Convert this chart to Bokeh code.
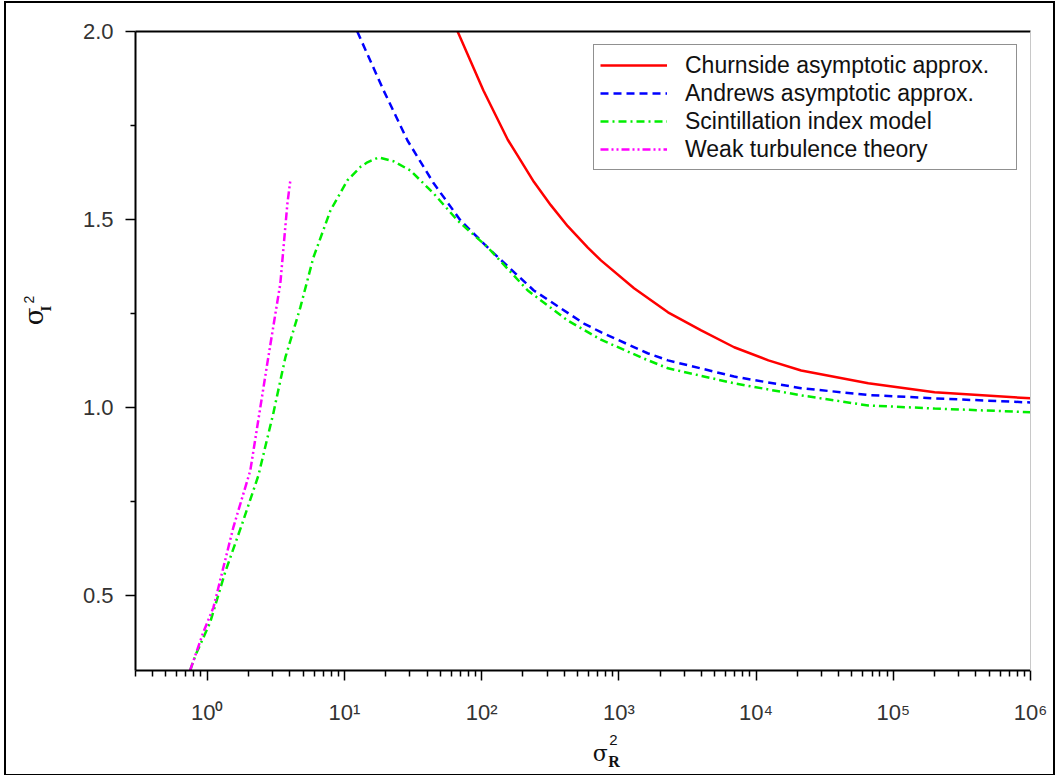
import math
from bokeh.plotting import figure
from bokeh.layouts import row, column
from bokeh.models import (LogAxis, LinearAxis, FixedTicker, Legend, LegendItem,
                          Range1d, PrintfTickFormatter)
from bokeh.core.properties import value
from bokeh.embed import file_html
from bokeh.resources import INLINE

# ---------------- data ----------------
churnside_x = [66.8, 103, 155, 183, 240, 319, 424, 594, 740, 1290, 2280, 3980,
               6920, 12300, 21300, 65700, 200000, 1000000]
churnside_y = [2.0, 1.843, 1.712, 1.670, 1.600, 1.538, 1.482, 1.425, 1.391, 1.317,
               1.253, 1.205, 1.160, 1.125, 1.098, 1.064, 1.040, 1.024]

andrews_x = [12.4, 19.3, 28.8, 44.7, 70.3, 116, 240, 556, 740, 1620, 2280, 6920,
             21300, 65700, 200000, 1000000]
andrews_y = [2.0, 1.843, 1.710, 1.596, 1.497, 1.418, 1.311, 1.223, 1.200, 1.144,
             1.125, 1.082, 1.051, 1.033, 1.024, 1.013]

model_x = [0.75, 0.82, 1.05, 1.35, 1.80, 2.36, 3.03, 3.71, 4.77, 5.94, 7.91, 10.5,
           13.1, 14.7, 17.7, 22.7, 30.3, 44.7, 66.8, 110.6, 216.8, 424, 740, 1517,
           2280, 6920, 21300, 65700, 200000, 1000000]
model_y = [0.30, 0.34, 0.428, 0.561, 0.691, 0.819, 0.984, 1.133, 1.266, 1.399, 1.524,
           1.604, 1.640, 1.652, 1.665, 1.655, 1.630, 1.569, 1.497, 1.426, 1.311,
           1.231, 1.180, 1.130, 1.104, 1.064, 1.032, 1.005, 0.997, 0.987]

weak_x = [0.75, 0.93, 1.11, 1.55, 2.06, 2.74, 3.41, 3.84, 4.04]
weak_y = [0.30, 0.399, 0.468, 0.681, 0.832, 1.117, 1.330, 1.543, 1.606]

series_labels = ["Churnside asymptotic approx.", "Andrews asymptotic approx.",
                 "Scintillation index model", "Weak turbulence theory"]

x_tick_exponents = [0, 1, 2, 3, 4, 5, 6]
x_tick_labels = ["10⁰", "10¹", "10²", "10³", "10⁴", "10⁵", "10⁶"]
y_major_ticks = [0.5, 1.0, 1.5, 2.0]
y_minor_ticks = [0.75, 1.25, 1.75]

X_START, X_END = 0.3, 1e6
Y_START, Y_END = 0.3, 2.0

# ---------------- layout geometry (pixels) ----------------
LEFT_W = 70             # narrow panel holding the y-axis title
MAIN_W = 977
B_LEFT, B_RIGHT = 59, 23
B_TOP = 28
FRAME_H = 639
B_BOTTOM = 58
MAIN_H = B_TOP + FRAME_H + B_BOTTOM
TOTAL_H = 771
BOTTOM_H = TOTAL_H - MAIN_H

FONT = "Liberation Sans"

# ---------------- main figure ----------------
p = figure(width=MAIN_W, height=MAIN_H, x_axis_type="log",
           x_range=Range1d(X_START, X_END), y_range=Range1d(Y_START, Y_END),
           output_backend="svg", toolbar_location=None,
           min_border_left=B_LEFT, min_border_right=B_RIGHT,
           min_border_top=B_TOP, min_border_bottom=B_BOTTOM)
p.outline_line_color = None
p.xgrid.visible = False
p.ygrid.visible = False
p.background_fill_color = "white"
p.border_fill_color = "white"

x_major = [10.0 ** e for e in x_tick_exponents]
x_minor = [k * 10.0 ** n for n in range(-1, 6) for k in range(2, 10)
           if X_START <= k * 10.0 ** n <= X_END]
xa = p.xaxis[0]
xa.ticker = FixedTicker(ticks=x_major, minor_ticks=x_minor)
xa.major_label_overrides = {t: lab for t, lab in zip(x_major, x_tick_labels)}
xa.axis_line_color = "black"
xa.axis_line_width = 2
xa.major_tick_line_color = "black"
xa.major_tick_line_width = 1.5
xa.minor_tick_line_color = "black"
xa.minor_tick_line_width = 1.5
xa.major_tick_in = 0
xa.major_tick_out = 10
xa.minor_tick_in = 0
xa.minor_tick_out = 6
xa.major_label_standoff = 19
xa.major_label_text_font = FONT
xa.major_label_text_font_size = "22px"
xa.major_label_text_color = "#333333"

ya = p.yaxis[0]
ya.ticker = FixedTicker(ticks=y_major_ticks, minor_ticks=y_minor_ticks)
ya.formatter = PrintfTickFormatter(format="%.1f")
ya.axis_line_color = "black"
ya.axis_line_width = 2
ya.major_tick_line_color = "black"
ya.major_tick_line_width = 1.5
ya.minor_tick_line_color = "black"
ya.minor_tick_line_width = 1.5
ya.major_tick_in = 0
ya.major_tick_out = 10
ya.minor_tick_in = 0
ya.minor_tick_out = 5
ya.major_label_standoff = 12
ya.major_label_text_font = FONT
ya.major_label_text_font_size = "22px"
ya.major_label_text_color = "#333333"

top_axis = LogAxis(axis_line_color="black", axis_line_width=2,
                   major_tick_line_color=None, minor_tick_line_color=None,
                   major_label_text_color=None)
p.add_layout(top_axis, "above")
right_axis = LinearAxis(axis_line_color="#c8c8c8", axis_line_width=1,
                        major_tick_line_color=None, minor_tick_line_color=None,
                        major_label_text_color=None)
p.add_layout(right_axis, "right")

r1 = p.line(churnside_x, churnside_y, line_color="#ff0000", line_width=2.5)
r2 = p.line(andrews_x, andrews_y, line_color="#0000ff", line_width=2.5,
            line_dash="8 5")
r3 = p.line(model_x, model_y, line_color="#00ee00", line_width=2.5,
            line_dash="8 4 2 4")
r4 = p.line(weak_x, weak_y, line_color="#ff00ff", line_width=2.5,
            line_dash="8 3 2 3 2 3")

legend = Legend(items=[LegendItem(label=series_labels[0], renderers=[r1]),
                       LegendItem(label=series_labels[1], renderers=[r2]),
                       LegendItem(label=series_labels[2], renderers=[r3]),
                       LegendItem(label=series_labels[3], renderers=[r4])],
                location="top_right", margin=13,
                label_text_font=FONT, label_text_font_size="23px",
                label_text_color="#111111",
                glyph_width=67, glyph_height=28, label_height=28,
                label_width=325, label_standoff=18, spacing=0, padding=6,
                border_line_color="#222222", border_line_width=1.5,
                background_fill_color="white", background_fill_alpha=1.0)
p.add_layout(legend, "center")

# ---------------- bottom strip: x title ----------------
pb = figure(width=MAIN_W, height=BOTTOM_H, x_axis_type="log",
            x_range=p.x_range, y_range=Range1d(0, BOTTOM_H),
            output_backend="svg", toolbar_location=None,
            x_axis_location=None, y_axis_location=None,
            min_border=0, min_border_left=B_LEFT, min_border_right=B_RIGHT,
            min_border_top=0, min_border_bottom=0)
pb.outline_line_color = None
pb.xgrid.visible = False
pb.ygrid.visible = False
pb.background_fill_color = "white"
pb.border_fill_color = "white"

decade_px = (MAIN_W - B_LEFT - B_RIGHT) / (math.log10(X_END) - math.log10(X_START))


def yb(py):
    """reference pixel row -> strip coordinate (strip bottom = window row 774)"""
    return 774 - py


def xb(px):
    """reference pixel column -> log-x value"""
    return 10 ** ((px - 207.0) / decade_px)


pb.text(x=[xb(600)], y=[yb(753)], text=["σ"], text_align="center",
        text_baseline="alphabetic", text_font=value("DejaVu Serif"),
        text_font_size=value("22px"), text_color="#111111")
pb.text(x=[xb(608)], y=[yb(761)], text=["R"], text_align="left",
        text_baseline="alphabetic", text_font=value("Liberation Serif"),
        text_font_style="bold", text_font_size=value("16px"),
        text_color="#111111")
pb.text(x=[xb(609)], y=[yb(739)], text=["2"], text_align="left",
        text_baseline="alphabetic", text_font=value(FONT),
        text_font_size=value("15px"), text_color="#111111")

# ---------------- left strip: rotated y title ----------------
pl = figure(width=LEFT_W, height=TOTAL_H,
            x_range=Range1d(0, LEFT_W), y_range=Range1d(0, TOTAL_H),
            output_backend="svg", toolbar_location=None,
            x_axis_location=None, y_axis_location=None,
            min_border=0, min_border_left=0, min_border_right=0,
            min_border_top=0, min_border_bottom=0)
pl.outline_line_color = None
pl.xgrid.visible = False
pl.ygrid.visible = False
pl.background_fill_color = "white"
pl.border_fill_color = "white"

half_pi = math.pi / 2
# glyph centres given in window pixels; strip starts at window column 6
pl.text(x=[33 - 6], y=[yb(316)], text=["σ"], angle=half_pi,
        text_align="center", text_baseline="middle",
        text_font=value("DejaVu Serif"), text_font_size=value("26px"),
        text_color="#111111")
pl.text(x=[45 - 6], y=[yb(308)], text=["I"], angle=half_pi,
        text_align="center", text_baseline="middle",
        text_font=value("Liberation Serif"), text_font_style="bold",
        text_font_size=value("15px"), text_color="#111111")
pl.text(x=[28 - 6], y=[yb(299)], text=["2"], angle=half_pi,
        text_align="center", text_baseline="middle",
        text_font=value(FONT), text_font_size=value("14px"),
        text_color="#111111")

layout = row(pl, column(p, pb))
layout.styles = {"border": "2px solid black", "margin-left": "4px",
                 "margin-top": "1px"}

open("out.html", "w").write(file_html(layout, INLINE))
